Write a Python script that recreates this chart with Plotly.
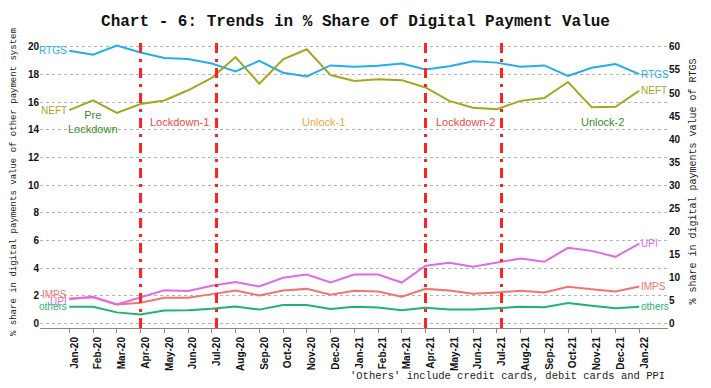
import plotly.graph_objects as go

months = ["Jan-20", "Feb-20", "Mar-20", "Apr-20", "May-20", "Jun-20", "Jul-20", "Aug-20",
          "Sep-20", "Oct-20", "Nov-20", "Dec-20", "Jan-21", "Feb-21", "Mar-21", "Apr-21",
          "May-21", "Jun-21", "Jul-21", "Aug-21", "Sep-21", "Oct-21", "Nov-21", "Dec-21", "Jan-22"]

# right axis (% share of RTGS)
rtgs = [59.2, 58.3, 60.3, 58.8, 57.6, 57.4, 56.4, 54.7, 57.0, 54.4, 53.6, 56.0, 55.7,
        55.9, 56.4, 55.1, 55.8, 56.9, 56.6, 55.7, 56.0, 53.7, 55.5, 56.3, 54.1]
neft = [46.3, 48.4, 45.7, 47.6, 48.4, 50.6, 53.3, 57.8, 52.0, 57.3, 59.5, 53.9, 52.6,
        53.0, 52.8, 51.2, 48.3, 46.8, 46.5, 48.3, 48.9, 52.4, 46.9, 47.0, 50.5]
# left axis (% share of other payment systems)
upi = [1.75, 1.93, 1.37, 1.88, 2.40, 2.34, 2.72, 3.00, 2.67, 3.30, 3.54, 2.96, 3.54,
       3.54, 2.96, 4.17, 4.39, 4.10, 4.39, 4.70, 4.46, 5.47, 5.25, 4.82, 5.78]
imps = [1.80, 1.90, 1.37, 1.50, 1.86, 1.86, 2.12, 2.39, 2.02, 2.39, 2.50, 2.07, 2.36,
        2.31, 1.93, 2.50, 2.39, 2.14, 2.24, 2.36, 2.24, 2.65, 2.48, 2.31, 2.67]
others = [1.20, 1.20, 0.80, 0.65, 0.94, 0.96, 1.06, 1.23, 1.00, 1.33, 1.33, 1.04, 1.20,
          1.16, 0.96, 1.13, 1.00, 1.00, 1.10, 1.20, 1.18, 1.47, 1.28, 1.10, 1.20]

phase_breaks = [3, 6.2, 15, 18.2]
phase_labels = ["Pre<br>Lockdown", "Lockdown-1", "Unlock-1", "Lockdown-2", "Unlock-2"]
phase_pos = [1.0, 4.66, 10.7, 16.7, 22.45]
phase_colors = ["#3C8A2C", "#F04848", "#F2A83A", "#F04848", "#3C8A2C"]

C_RTGS, C_NEFT = "#22AEEE", "#A4A61E"
C_UPI, C_IMPS, C_OTH = "#E26AE6", "#F27470", "#1DB472"

SANS = "Arial, Liberation Sans, sans-serif"
MONO = "Courier New, Liberation Mono, monospace"

x = list(range(len(months)))
fig = go.Figure()
for name, vals, col in [("others", others, C_OTH), ("IMPS", imps, C_IMPS), ("UPI", upi, C_UPI)]:
    fig.add_trace(go.Scatter(x=x, y=vals, mode="lines", name=name,
                             line=dict(color=col, width=2)))
for name, vals, col in [("RTGS", rtgs, C_RTGS), ("NEFT", neft, C_NEFT)]:
    fig.add_trace(go.Scatter(x=x, y=vals, mode="lines", name=name, yaxis="y2",
                             line=dict(color=col, width=2)))

for b in phase_breaks:
    fig.add_shape(type="line", xref="x", yref="paper", x0=b, x1=b, y0=0, y1=1,
                  line=dict(color="#FF2020", width=3, dash="10px,6px,3px,6px"))

ann = []
for t, xp, c in zip(phase_labels, phase_pos, phase_colors):
    ann.append(dict(x=xp, y=14.55, xref="x", yref="y", text=t, showarrow=False,
                    font=dict(family=SANS, size=11, color=c)))

last = len(months) - 1
series_labels = [
    ("RTGS", rtgs, "y2", C_RTGS, 0),
    ("NEFT", neft, "y2", C_NEFT, 0),
    ("UPI", upi, "y", C_UPI, -2),
    ("IMPS", imps, "y", C_IMPS, 4),
    ("others", others, "y", C_OTH, 0),
]
for name, vals, yr, col, ys_left in series_labels:
    ann.append(dict(x=0, y=vals[0], xref="x", yref=yr, text=name, showarrow=False,
                    xanchor="right", yshift=ys_left,
                    font=dict(family=SANS, size=10, color=col)))
    ann.append(dict(x=last, y=vals[last], xref="x", yref=yr, text=name, showarrow=False,
                    xanchor="left",
                    font=dict(family=SANS, size=10, color=col)))

ann.append(dict(x=(7 - 40) / 628, y=(388 - 60 - 182) / 291, xref="paper", yref="paper",
                text="% share in digital payments value of other payment system",
                showarrow=False, textangle=-90, font=dict(family=MONO, size=9, color="#222")))
ann.append(dict(x=(700 - 40) / 628, y=(388 - 60 - 182) / 291, xref="paper", yref="paper",
                text="% share in digital payments value of RTGS",
                showarrow=False, textangle=-90, font=dict(family=MONO, size=10, color="#222")))
ann.append(dict(x=(667 - 40) / 628, y=-(376 - 328) / 291, xref="paper", yref="paper",
                xanchor="right", yanchor="middle",
                text="'Others' include credit cards, debit cards and PPI",
                showarrow=False, font=dict(family=MONO, size=10.5, color="#222")))

fig.update_layout(
    width=711, height=388, autosize=False,
    margin=dict(l=40, r=43, t=37, b=60),
    paper_bgcolor="white", plot_bgcolor="white",
    showlegend=False,
    title=dict(text="<b>Chart - 6: Trends in % Share of Digital Payment Value</b>",
               x=0.5, xanchor="center", y=1 - 20 / 388, yanchor="middle",
               font=dict(family=MONO, size=16, color="#111")),
    xaxis=dict(range=[-1.234, 25.21], tickmode="array", tickvals=x, ticktext=months,
               tickangle=-90, tickfont=dict(family=SANS, size=10, color="#111", weight="bold"),
               ticks="outside", ticklen=4, tickcolor="#888", showline=True, linecolor="#888",
               showgrid=False, zeroline=False, automargin=False, ticklabelshift=5),
    yaxis=dict(range=[-0.33, 20.72], tickmode="array", tickvals=list(range(0, 21, 2)),
               tickfont=dict(family=SANS, size=10, color="#111", weight="bold"),
               showgrid=True, gridcolor="#B4B4B4", griddash="dot", gridwidth=1,
               zeroline=False, showline=False, automargin=False),
    yaxis2=dict(range=[-0.99, 62.16], overlaying="y", side="right", tickmode="array",
                tickvals=list(range(0, 61, 5)),
                tickfont=dict(family=SANS, size=10, color="#111", weight="bold"),
                showgrid=False, zeroline=False, showline=False, automargin=False),
    annotations=ann,
)

fig.write_html("out.html", config={"displayModeBar": False},
               post_script="document.body.style.margin='0';")
